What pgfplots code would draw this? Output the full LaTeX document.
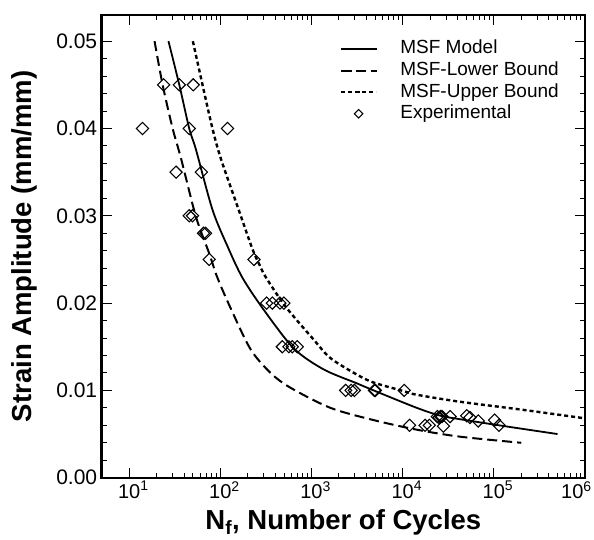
\documentclass[border=0pt]{standalone}
\usepackage{fontspec}
\setmainfont{Liberation Sans}
\usepackage{pgfplots}
\pgfplotsset{compat=1.18}
\begin{document}
\begin{tikzpicture}
\useasboundingbox (-101.7pt,-61.3pt) rectangle (492.3pt,477.7pt);
\begin{axis}[
  at={(0pt,0pt)}, anchor=south west,
  scale only axis, width=483.3pt, height=462.7pt,
  xmode=log, xmin=5, xmax=1e6, ymin=0, ymax=0.053,
  axis line style={line width=2.4pt},
  tick style={line width=1pt, black},
  major tick length=10pt, minor tick length=5pt,
  tick align=inside,
  xtick={10,100,1000,10000,100000,1000000},
  xticklabels={10\rlap{\textsuperscript{1}},10\rlap{\textsuperscript{2}},10\rlap{\textsuperscript{3}},10\rlap{\textsuperscript{4}},10\rlap{\textsuperscript{5}},\makebox[0pt]{10\textsuperscript{6}\hspace*{17pt}}},
  ytick={0,0.01,0.02,0.03,0.04,0.05},
  yticklabels={0.00,0.01,0.02,0.03,0.04,0.05},
  scaled y ticks=false,
  minor y tick num=4,
  xticklabel style={font=\fontsize{20}{24}\selectfont},
  yticklabel style={font=\fontsize{21}{25}\selectfont, xshift=-1pt},
  label style={font=\bfseries\fontsize{27.5}{32}\selectfont},
  xlabel={N\textsubscript{f}, Number of Cycles},
  ylabel={Strain Amplitude (mm/mm)},
  xlabel style={at={(axis description cs:0.5,-0.112)}, anchor=base},
  ylabel style={at={(axis description cs:-0.159,0.5)}, anchor=center},
  legend style={draw=none, fill=none, at={(0.493,0.95)}, anchor=north west,
    inner sep=0pt, outer sep=0pt,
    font=\fontsize{19}{22}\selectfont,
    nodes={text height=14pt, text depth=4pt, inner ysep=1.8pt, inner xsep=0pt},
    cells={anchor=west},
    /tikz/every odd column/.append style={column sep=23pt}},
  legend image code/.code={\draw[mark repeat=2,mark phase=2,#1] plot coordinates {(0pt,0pt)(17.5pt,0pt)(35pt,0pt)};},
]
\addplot[black, line width=1.8pt, smooth] table {
27 0.0500
35.5 0.0450
45.6 0.0400
54 0.0376
82 0.0307
120 0.0265
175 0.0229
301 0.0192
641 0.0148
1362 0.0124
3160 0.0108
4800 0.0100
14300 0.0080
26000 0.0071
42500 0.0067
132000 0.0059
500000 0.0050
};
\addlegendentry{MSF Model}
\addplot[black, line width=2pt, dash pattern=on 10pt off 5pt, smooth] table {
19 0.0500
23.3 0.0450
30 0.0400
37 0.0366
54 0.0299
75.5 0.0257
93 0.0229
130 0.0194
215 0.0147
356 0.0120
589 0.0103
1615 0.0080
4800 0.0066
14300 0.0055
42500 0.0047
200000 0.0040
};
\addlegendentry{MSF-Lower Bound}
\addplot[black, line width=2.4pt, dash pattern=on 4pt off 3pt, smooth] table {
50 0.0500
63.8 0.0450
82 0.0400
101 0.0366
154 0.0311
225 0.0262
266 0.0245
314 0.0230
520 0.0196
1060 0.0158
1615 0.0137
3160 0.0118
4800 0.0109
10400 0.0099
14300 0.0095
42500 0.0087
200000 0.0078
1000000 0.0068
};
\addlegendentry{MSF-Upper Bound}
\addplot[only marks, mark=square, mark size=4.3pt, mark options={rotate=45, line width=1.1pt, draw=black, fill=none}, legend image post style={mark size=3pt}] table {
14 0.040
23.9 0.045
35.5 0.045
50.5 0.045
45.6 0.040
120 0.040
32.7 0.035
62 0.035
45.6 0.030
49.6 0.030
65.5 0.028
69 0.028
75.5 0.025
234 0.025
322 0.020
372 0.020
451 0.020
498 0.020
479 0.015
565 0.015
615 0.015
698 0.015
2370 0.010
2720 0.010
2950 0.010
4900 0.010
5010 0.010
10400 0.010
11900 0.006
17600 0.006
19600 0.006
28000 0.0059
24000 0.007
25000 0.0069
26000 0.007
27000 0.007
33100 0.007
50400 0.0071
54700 0.0069
67400 0.0065
102000 0.0066
114000 0.006
};
\addlegendentry{Experimental}
\end{axis}
\end{tikzpicture}
\end{document}
